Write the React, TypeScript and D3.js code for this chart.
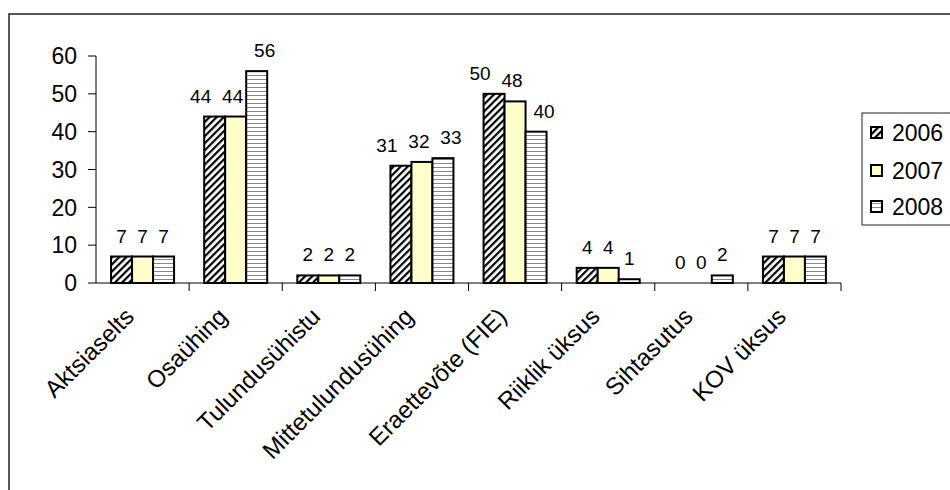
import React from "react";
import * as d3 from "d3";

const categories = ["Aktsiaselts","Osaühing","Tulundusühistu","Mittetulundusühing","Eraettevõte (FIE)","Riiklik üksus","Sihtasutus","KOV üksus"];
const years = ["2006","2007","2008"];
const v2006 = [7,44,2,31,50,4,0,7];
const v2007 = [7,44,2,32,48,4,0,7];
const v2008 = [7,56,2,33,40,1,2,7];
const yTicks = [0,10,20,30,40,50,60];

export default function App() {
  const series = [v2006, v2007, v2008];
  const x = d3.scaleBand().domain(categories).range([96, 841]);
  const y = d3.scaleLinear().domain([0, 60]).range([283, 56]);
  const bw = 21;
  const fills = ["url(#diag)", "#ffffcc", "url(#horiz)"];
  const font = "Arial, 'Liberation Sans', sans-serif";
  return (
    <svg width={950} height={490} style={{ position: "absolute", left: 0, top: 0 }} fontFamily={font}>
      <defs>
        <pattern id="diag" width="5" height="5" patternUnits="userSpaceOnUse" patternTransform="rotate(45)">
          <rect width="5" height="5" fill="#fff" />
          <rect width="2.2" height="5" fill="#000" />
        </pattern>
        <pattern id="horiz" width="4" height="4" patternUnits="userSpaceOnUse">
          <rect width="4" height="4" fill="#fff" />
          <rect y="3" width="4" height="1" fill="#888" />
        </pattern>
      </defs>
      <rect x={0} y={0} width={950} height={490} fill="#fff" />
      <rect x={9} y={14} width={960} height={500} fill="none" stroke="#222" strokeWidth={1.5} />
      <line x1={96} x2={96} y1={56} y2={283} stroke="#000" />
      {yTicks.map(t => (
        <g key={t}>
          <line x1={88} x2={96} y1={y(t)} y2={y(t)} stroke="#000" />
          <text x={77} y={y(t)} dy="0.36em" textAnchor="end" fontSize={23}>{t}</text>
        </g>
      ))}
      <line x1={96} x2={841} y1={283} y2={283} stroke="#000" />
      {categories.map((c, i) => (
        <line key={c} x1={96 + x.step() * (i + 1)} x2={96 + x.step() * (i + 1)} y1={283} y2={291} stroke="#000" />
      ))}
      {categories.map((c, i) => {
        const cx = (x(c) as number) + x.bandwidth() / 2;
        const wide = series.some(s => s[i] >= 10);
        return (
          <g key={c}>
            {series.map((s, k) => {
              const bx = cx - 1.5 * bw + k * bw;
              const h = y(0) - y(s[i]);
              const lx = wide ? cx + (k - 1) * 32 - 3 : bx + bw / 2;
              return (
                <g key={k}>
                  {s[i] > 0 && <rect x={bx} y={y(s[i])} width={bw} height={h} fill={fills[k]} stroke="#000" strokeWidth={2} />}
                  <text x={lx} y={y(s[i]) - 14} textAnchor="middle" fontSize={19}>{s[i]}</text>
                </g>
              );
            })}
            <text transform={`translate(${cx - 7},${318}) rotate(-45)`} textAnchor="end" fontSize={24}>{c}</text>
          </g>
        );
      })}
      <rect x={862} y={113} width={100} height={112} fill="#fff" stroke="#222" />
      {years.map((yr, k) => {
        const ly = [133, 171, 207][k];
        return (
          <g key={yr}>
            <rect x={871} y={ly - 6} width={11} height={11} fill={fills[k]} stroke="#000" strokeWidth={2} />
            <text x={892} y={ly} dy="0.36em" fontSize={23}>{yr}</text>
          </g>
        );
      })}
    </svg>
  );
}
